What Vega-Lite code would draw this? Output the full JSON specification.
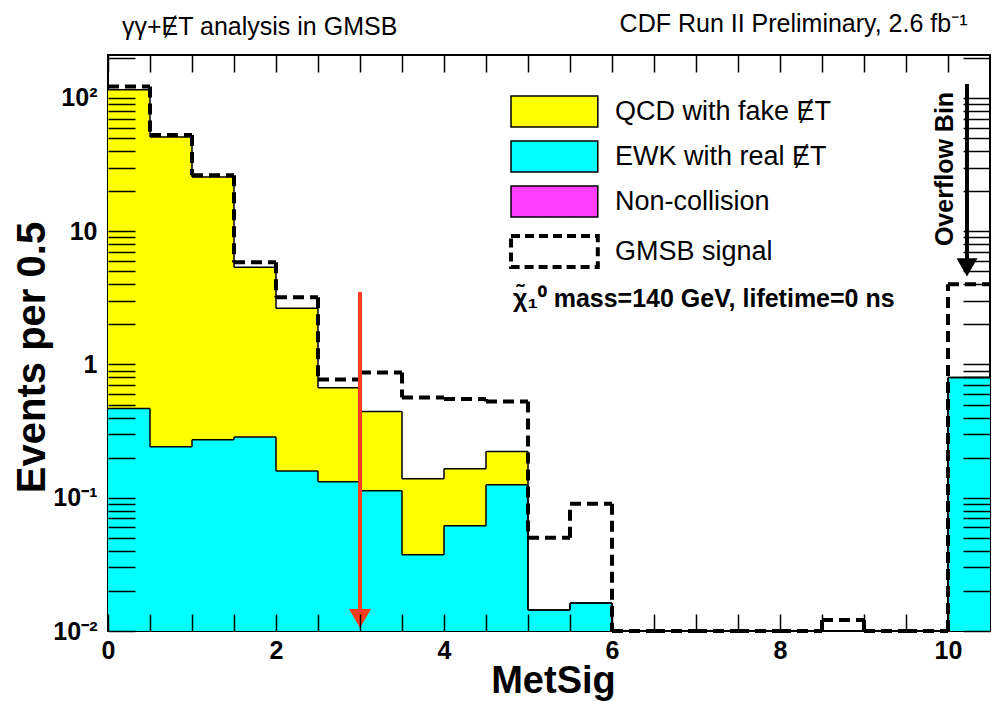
{
  "$schema": "https://vega.github.io/schema/vega-lite/v6.json",
  "width": 882,
  "height": 576,
  "autosize": {"type": "none"},
  "padding": {"left": 108, "top": 55, "right": 6, "bottom": 70},
  "background": "white",
  "title": {
    "text": "γγ+ɆT analysis in GMSB",
    "anchor": "start",
    "frame": "group",
    "dx": 14,
    "dy": 33,
    "offset": 4,
    "font": "Liberation Sans",
    "fontSize": 25,
    "fontWeight": "normal",
    "color": "black"
  },
  "datasets": {
    "bins": [
      {"lo": 0, "hi": 0.5, "total": 115, "ewk": 0.467, "sig": 122},
      {"lo": 0.5, "hi": 1, "total": 51, "ewk": 0.241, "sig": 52.7},
      {"lo": 1, "hi": 1.5, "total": 25.5, "ewk": 0.272, "sig": 26.3},
      {"lo": 1.5, "hi": 2, "total": 5.36, "ewk": 0.285, "sig": 5.85},
      {"lo": 2, "hi": 2.5, "total": 2.64, "ewk": 0.159, "sig": 3.19},
      {"lo": 2.5, "hi": 3, "total": 0.67, "ewk": 0.132, "sig": 0.77},
      {"lo": 3, "hi": 3.5, "total": 0.443, "ewk": 0.113, "sig": 0.871},
      {"lo": 3.5, "hi": 4, "total": 0.139, "ewk": 0.0373, "sig": 0.565},
      {"lo": 4, "hi": 4.5, "total": 0.165, "ewk": 0.0616, "sig": 0.55},
      {"lo": 4.5, "hi": 5, "total": 0.222, "ewk": 0.125, "sig": 0.527},
      {"lo": 5, "hi": 5.5, "total": 0.0144, "ewk": 0.0144, "sig": 0.05},
      {"lo": 5.5, "hi": 6, "total": 0.0162, "ewk": 0.0162, "sig": 0.0902},
      {"lo": 6, "hi": 6.5, "total": 0.01, "ewk": 0.01, "sig": 0.01},
      {"lo": 6.5, "hi": 7, "total": 0.01, "ewk": 0.01, "sig": 0.01},
      {"lo": 7, "hi": 7.5, "total": 0.01, "ewk": 0.01, "sig": 0.01},
      {"lo": 7.5, "hi": 8, "total": 0.01, "ewk": 0.01, "sig": 0.01},
      {"lo": 8, "hi": 8.5, "total": 0.01, "ewk": 0.01, "sig": 0.01},
      {"lo": 8.5, "hi": 9, "total": 0.01, "ewk": 0.01, "sig": 0.0121},
      {"lo": 9, "hi": 9.5, "total": 0.01, "ewk": 0.01, "sig": 0.01},
      {"lo": 9.5, "hi": 10, "total": 0.01, "ewk": 0.01, "sig": 0.01},
      {"lo": 10, "hi": 10.5, "total": 0.8, "ewk": 0.8, "sig": 4.0}
    ],
    "arrows": [
      {"name": "cut", "x": 3, "ytop": 3.5, "ytip": 0.0124},
      {"name": "overflow", "x": 10.226, "ytop": 127, "ytip": 5.36}
    ],
    "notes": [
      {"x": 9.96, "y": 29.3, "text": "Overflow Bin"}
    ]
  },
  "resolve": {"axis": {"x": "independent", "y": "independent"}},
  "layer": [
    {
      "data": {"name": "bins"},
      "mark": {"type": "rect", "strokeWidth": 0},
      "encoding": {
        "x": {"field": "lo", "type": "quantitative",
          "scale": {"domain": [0, 10.5], "nice": false, "zero": false},
          "axis": {
            "orient": "bottom",
            "zindex": 2,
            "values": [0, 0.5, 1, 1.5, 2, 2.5, 3, 3.5, 4, 4.5, 5, 5.5, 6, 6.5, 7, 7.5, 8, 8.5, 9, 9.5, 10],
            "tickSize": -17,
            "labelPadding": 24,
            "labelFlush": false,
            "labelOverlap": false,
            "labelExpr": "datum.value % 2 == 0 ? format(datum.value, 'd') : ''",
            "title": "MetSig",
            "titleFontSize": 38,
            "titleX": 445,
            "titleY": 61,
            "titleAlign": "center",
            "titleBaseline": "alphabetic",
            "encode": {"ticks": {"update": {"y2": {"signal": "datum.value % 2 == 0 ? -17 : -9"}}}}
          }
        },
        "x2": {"field": "hi"},
        "y": {"field": "total", "type": "quantitative",
          "scale": {"type": "log", "domain": [0.01, 210], "nice": false},
          "axis": {
            "orient": "left",
            "zindex": 2,
            "values": [0.01, 0.02, 0.03, 0.04, 0.05, 0.06, 0.07, 0.08, 0.09, 0.1, 0.2, 0.3, 0.4, 0.5, 0.6, 0.7, 0.8, 0.9, 1, 2, 3, 4, 5, 6, 7, 8, 9, 10, 20, 30, 40, 50, 60, 70, 80, 90, 100, 200],
            "tickSize": -27,
            "labelPadding": 38,
            "labelOverlap": false,
            "labelBound": false,
            "labelExpr": "datum.value == 100 ? '10²' : datum.value == 10 ? '10' : datum.value == 1 ? '1' : datum.value == 0.1 ? '10⁻¹' : datum.value == 0.01 ? '10⁻²' : ''",
            "title": "Events per 0.5",
            "titleFontSize": 40,
            "titleAngle": -90,
            "titleX": -64,
            "titleY": 302,
            "titleAlign": "center",
            "titleBaseline": "alphabetic",
            "encode": {"ticks": {"update": {"x2": {"signal": "abs(log(datum.value)/LN10 - round(log(datum.value)/LN10)) < 0.001 ? 27 : 13"}}}}
          }
        },
        "y2": {"datum": 0.01},
        "fill": {
          "datum": "QCD with fake ɆT",
          "type": "nominal",
          "scale": {
            "domain": ["QCD with fake ɆT", "EWK with real ɆT", "Non-collision", "GMSB signal"],
            "range": ["#ffff00", "#00ffff", "#ff3dff", "#ffffff"]
          },
          "legend": {
            "orient": "none",
            "legendX": 405,
            "legendY": 43,
            "padding": 0,
            "symbolType": "M-1,-1H4.6V1H-1Z",
            "symbolSize": 961,
            "symbolStrokeColor": "black",
            "symbolStrokeWidth": 1.5,
            "symbolOpacity": 1,
            "labelFont": "Liberation Sans",
            "labelFontSize": 27,
            "labelColor": "black",
            "labelOffset": 75,
            "labelLimit": 400,
            "rowPadding": 8,
            "title": "χ̃₁⁰ mass=140 GeV, lifetime=0 ns",
            "titleOrient": "bottom",
            "titleAnchor": "start",
            "titleFont": "Liberation Sans",
            "titleFontSize": 25,
            "titleFontWeight": "bold",
            "titleColor": "black",
            "titlePadding": 12,
            "titleLimit": 600,
            "encode": {
              "symbols": {
                "update": {
                  "strokeDash": {"signal": "datum.value == 'GMSB signal' ? [9, 5] : [1, 0]"},
                  "strokeWidth": {"signal": "datum.value == 'GMSB signal' ? 4 : 1.5"}
                }
              }
            }
          }
        }
      }
    },
    {
      "data": {"name": "bins"},
      "mark": {"type": "rect", "strokeWidth": 0},
      "encoding": {
        "x": {"field": "lo", "type": "quantitative",
          "scale": {"domain": [0, 10.5], "nice": false, "zero": false},
          "axis": {
            "orient": "top",
            "zindex": 2,
            "values": [0, 0.5, 1, 1.5, 2, 2.5, 3, 3.5, 4, 4.5, 5, 5.5, 6, 6.5, 7, 7.5, 8, 8.5, 9, 9.5, 10],
            "tickSize": -17,
            "labels": false,
            "title": "CDF Run II Preliminary, 2.6 fb⁻¹",
            "titleFontSize": 25,
            "titleFontWeight": "normal",
            "titleX": 859,
            "titleY": -24,
            "titleAlign": "right",
            "titleBaseline": "alphabetic",
            "encode": {"ticks": {"update": {"y2": {"signal": "datum.value % 2 == 0 ? 17 : 9"}}}}
          }
        },
        "x2": {"field": "hi"},
        "y": {"field": "ewk", "type": "quantitative",
          "scale": {"type": "log", "domain": [0.01, 210], "nice": false},
          "axis": {
            "orient": "right",
            "zindex": 2,
            "values": [0.01, 0.02, 0.03, 0.04, 0.05, 0.06, 0.07, 0.08, 0.09, 0.1, 0.2, 0.3, 0.4, 0.5, 0.6, 0.7, 0.8, 0.9, 1, 2, 3, 4, 5, 6, 7, 8, 9, 10, 20, 30, 40, 50, 60, 70, 80, 90, 100, 200],
            "tickSize": -27,
            "labels": false,
            "title": null,
            "encode": {"ticks": {"update": {"x2": {"signal": "abs(log(datum.value)/LN10 - round(log(datum.value)/LN10)) < 0.001 ? -27 : -13"}}}}
          }
        },
        "y2": {"datum": 0.01},
        "fill": {"datum": "EWK with real ɆT", "type": "nominal"}
      }
    },
    {
      "data": {"name": "bins"},
      "mark": {"type": "rule", "color": "black", "strokeWidth": 1.5},
      "encoding": {
        "x": {"field": "lo", "type": "quantitative", "scale": {"domain": [0, 10.5], "nice": false, "zero": false}, "axis": null},
        "x2": {"field": "hi"},
        "y": {"field": "total", "type": "quantitative", "scale": {"type": "log", "domain": [0.01, 210], "nice": false}, "axis": null}
      }
    },
    {
      "data": {"name": "bins"},
      "mark": {"type": "rule", "color": "black", "strokeWidth": 1.5},
      "encoding": {
        "x": {"field": "lo", "type": "quantitative", "scale": {"domain": [0, 10.5], "nice": false, "zero": false}, "axis": null},
        "x2": {"field": "hi"},
        "y": {"field": "ewk", "type": "quantitative", "scale": {"type": "log", "domain": [0.01, 210], "nice": false}, "axis": null}
      }
    },
    {
      "data": {"name": "bins"},
      "transform": [
        {"window": [{"op": "lag", "field": "total", "as": "ptotal"}], "sort": [{"field": "lo"}]},
        {"filter": "datum.ptotal != null"}
      ],
      "mark": {"type": "rule", "color": "black", "strokeWidth": 1.5},
      "encoding": {
        "x": {"field": "lo", "type": "quantitative", "scale": {"domain": [0, 10.5], "nice": false, "zero": false}, "axis": null},
        "y": {"field": "ptotal", "type": "quantitative", "scale": {"type": "log", "domain": [0.01, 210], "nice": false}, "axis": null},
        "y2": {"field": "total"}
      }
    },
    {
      "data": {"name": "bins"},
      "transform": [
        {"window": [{"op": "lag", "field": "ewk", "as": "pewk"}], "sort": [{"field": "lo"}]},
        {"filter": "datum.pewk != null"}
      ],
      "mark": {"type": "rule", "color": "black", "strokeWidth": 1.5},
      "encoding": {
        "x": {"field": "lo", "type": "quantitative", "scale": {"domain": [0, 10.5], "nice": false, "zero": false}, "axis": null},
        "y": {"field": "pewk", "type": "quantitative", "scale": {"type": "log", "domain": [0.01, 210], "nice": false}, "axis": null},
        "y2": {"field": "ewk"}
      }
    },
    {
      "data": {"name": "bins"},
      "mark": {"type": "rule", "color": "black", "strokeWidth": 4, "strokeDash": [11, 6], "strokeCap": "butt"},
      "encoding": {
        "x": {"field": "lo", "type": "quantitative", "scale": {"domain": [0, 10.5], "nice": false, "zero": false}, "axis": null},
        "x2": {"field": "hi"},
        "y": {"field": "sig", "type": "quantitative", "scale": {"type": "log", "domain": [0.01, 210], "nice": false}, "axis": null}
      }
    },
    {
      "data": {"name": "bins"},
      "transform": [
        {"window": [{"op": "lag", "field": "sig", "as": "psig"}], "sort": [{"field": "lo"}]},
        {"filter": "datum.psig != null"}
      ],
      "mark": {"type": "rule", "color": "black", "strokeWidth": 4, "strokeDash": [11, 6], "strokeCap": "butt"},
      "encoding": {
        "x": {"field": "lo", "type": "quantitative", "scale": {"domain": [0, 10.5], "nice": false, "zero": false}, "axis": null},
        "y": {"field": "psig", "type": "quantitative", "scale": {"type": "log", "domain": [0.01, 210], "nice": false}, "axis": null},
        "y2": {"field": "sig"}
      }
    },
    {
      "data": {"name": "arrows"},
      "transform": [{"filter": "datum.name == 'cut'"}],
      "mark": {"type": "rule", "color": "#ff3c1e", "strokeWidth": 4},
      "encoding": {
        "x": {"field": "x", "type": "quantitative", "scale": {"domain": [0, 10.5], "nice": false, "zero": false}, "axis": null},
        "y": {"field": "ytop", "type": "quantitative", "scale": {"type": "log", "domain": [0.01, 210], "nice": false}, "axis": null},
        "y2": {"field": "ytip"}
      }
    },
    {
      "data": {"name": "arrows"},
      "transform": [{"filter": "datum.name == 'cut'"}],
      "mark": {"type": "point", "shape": "triangle-down", "filled": true, "color": "#ff3c1e", "size": 484, "opacity": 1},
      "encoding": {
        "x": {"field": "x", "type": "quantitative", "scale": {"domain": [0, 10.5], "nice": false, "zero": false}, "axis": null},
        "y": {"field": "ytip", "type": "quantitative", "scale": {"type": "log", "domain": [0.01, 210], "nice": false}, "axis": null}
      }
    },
    {
      "data": {"name": "arrows"},
      "transform": [{"filter": "datum.name == 'overflow'"}],
      "mark": {"type": "rule", "color": "black", "strokeWidth": 4},
      "encoding": {
        "x": {"field": "x", "type": "quantitative", "scale": {"domain": [0, 10.5], "nice": false, "zero": false}, "axis": null},
        "y": {"field": "ytop", "type": "quantitative", "scale": {"type": "log", "domain": [0.01, 210], "nice": false}, "axis": null},
        "y2": {"field": "ytip"}
      }
    },
    {
      "data": {"name": "arrows"},
      "transform": [{"filter": "datum.name == 'overflow'"}],
      "mark": {"type": "point", "shape": "triangle-down", "filled": true, "color": "black", "size": 441, "opacity": 1},
      "encoding": {
        "x": {"field": "x", "type": "quantitative", "scale": {"domain": [0, 10.5], "nice": false, "zero": false}, "axis": null},
        "y": {"field": "ytip", "type": "quantitative", "scale": {"type": "log", "domain": [0.01, 210], "nice": false}, "axis": null}
      }
    },
    {
      "data": {"name": "notes"},
      "mark": {"type": "text", "angle": 270, "align": "center", "baseline": "middle", "font": "Liberation Sans", "fontSize": 25, "fontWeight": "bold", "color": "black"},
      "encoding": {
        "x": {"field": "x", "type": "quantitative", "scale": {"domain": [0, 10.5], "nice": false, "zero": false}, "axis": null},
        "y": {"field": "y", "type": "quantitative", "scale": {"type": "log", "domain": [0.01, 210], "nice": false}, "axis": null},
        "text": {"field": "text"}
      }
    }
  ],
  "config": {
    "view": {"stroke": "black", "strokeWidth": 2},
    "axis": {
      "domain": false,
      "grid": false,
      "labelFont": "Liberation Sans",
      "labelFontSize": 25,
      "labelFontWeight": "bold",
      "labelColor": "black",
      "tickColor": "black",
      "tickWidth": 1.5,
      "titleFont": "Liberation Sans",
      "titleFontWeight": "bold",
      "titleColor": "black"
    }
  }
}
